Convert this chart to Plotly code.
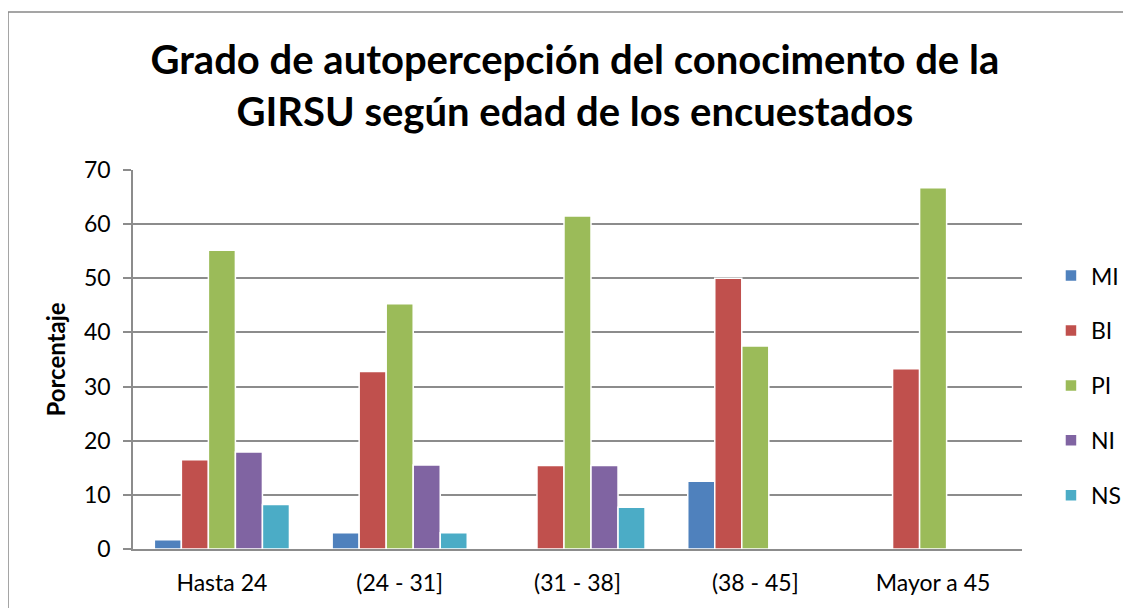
import plotly.graph_objects as go

categories = ["Hasta 24", "(24 - 31]", "(31 - 38]", "(38 - 45]", "Mayor a 45"]
series_names = ["MI", "BI", "PI", "NI", "NS"]
mi = [1.7, 3.0, 0, 12.5, 0]
bi = [16.5, 32.8, 15.4, 50.0, 33.3]
pi = [55.2, 45.3, 61.5, 37.5, 66.7]
ni = [17.9, 15.5, 15.4, 0, 0]
ns = [8.2, 3.0, 7.7, 0, 0]
colors = ["#4F81BD", "#C0504D", "#9BBB59", "#8064A2", "#4BACC6"]

font_family = "Lato, 'Open Sans', sans-serif"

fig = go.Figure()
for name, vals, col in zip(series_names, [mi, bi, pi, ni, ns], colors):
    fig.add_trace(go.Bar(
        x=categories, y=vals, name=name, legendgroup=name,
        marker=dict(color=col, line=dict(color="white", width=1.5)),
    ))

# page body has an 8px margin, so the figure has to fit inside it
fig.update_layout(
    width=1115, height=600,
    margin=dict(l=125, r=101, t=162, b=59),
    paper_bgcolor="white", plot_bgcolor="white",
    barmode="group", bargap=0.24, bargroupgap=0,
    font=dict(family=font_family, color="black", size=23),
    title=dict(
        text="<b>Grado de autopercepción del conocimento de la<br>GIRSU según edad de los encuestados</b>",
        x=0.497, xref="paper", xanchor="center",
        y=0.89, yanchor="middle",
        font=dict(family=font_family, size=40, color="black"),
    ),
    # container ref so the legend does not push the right margin
    legend=dict(
        xref="container", x=0.9354, xanchor="left",
        yref="paper", y=0.778, yanchor="top",
        font=dict(size=23), tracegroupgap=22,
        itemwidth=30, bgcolor="rgba(0,0,0,0)",
    ),
    showlegend=True,
)

fig.update_yaxes(
    range=[0, 70], dtick=10,
    showgrid=True, gridcolor="#8C8C8C", gridwidth=1.5,
    showline=True, linecolor="#8C8C8C", linewidth=1.5,
    ticks="outside", ticklen=8, tickcolor="#8C8C8C", tickwidth=1.5,
    ticklabelstandoff=8,
    title=dict(text="<b>Porcentaje</b>", font=dict(size=24), standoff=12),
    zeroline=False,
)
fig.update_xaxes(
    showline=True, linecolor="#8C8C8C", linewidth=1.5,
    ticks="", ticklabelstandoff=13,
)

# outer chart border
fig.add_shape(
    type="rect", xref="paper", yref="paper",
    x0=(0 - 125) / 889, x1=1.3, y0=-0.3, y1=(541 - 4) / 379,
    line=dict(color="#888888", width=1.5), fillcolor="rgba(0,0,0,0)",
    layer="below",
)

fig.write_html("out.html")
